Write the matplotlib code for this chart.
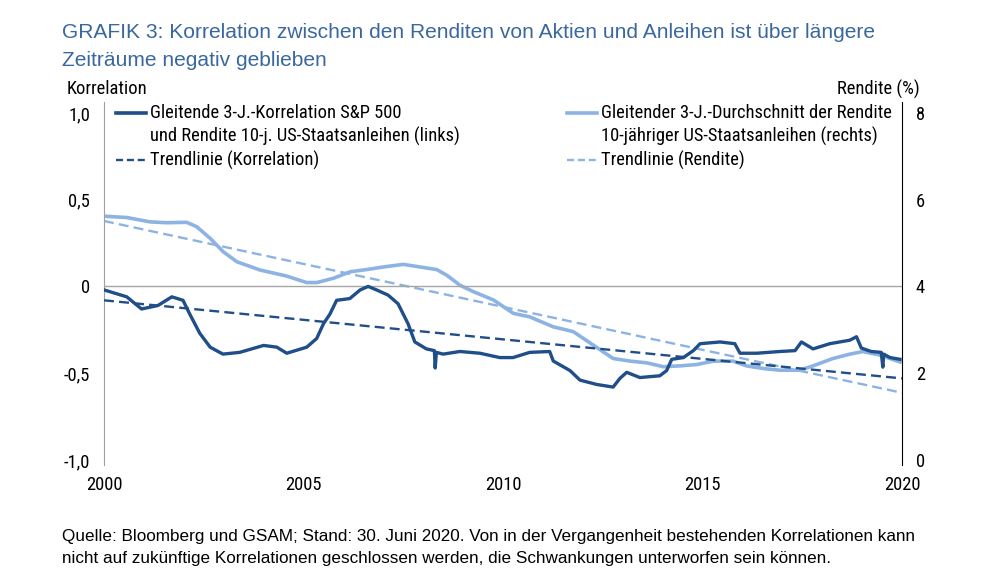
import matplotlib.pyplot as plt
import numpy as np

# condensed font for the axis texts, Arial-like for title/footnote
plt.rcParams['font.family'] = ['Roboto Condensed', 'DejaVu Sans']
SANS = ['Liberation Sans', 'DejaVu Sans']
FS = 13.3

DARK = '#1f4e89'
LIGHT = '#8db3e2'
TITLE_C = '#3a689e'

# rolling 3y correlation S&P 500 vs 10y yield (left axis)
corr_year = [2000.0, 2000.57, 2000.94, 2001.35, 2001.7, 2001.98, 2002.15, 2002.4, 2002.66,
             2002.98, 2003.4, 2004.0, 2004.33, 2004.58, 2005.08, 2005.33, 2005.5, 2005.66,
             2005.83, 2006.16, 2006.42, 2006.62, 2006.83, 2007.12, 2007.37, 2007.62, 2007.79,
             2008.08, 2008.28, 2008.3, 2008.33, 2008.5, 2008.92, 2009.42, 2009.92, 2010.25,
             2010.67, 2011.17, 2011.26, 2011.68, 2011.93, 2012.35, 2012.76, 2012.93, 2013.1,
             2013.43, 2013.93, 2014.1, 2014.23, 2014.52, 2014.77, 2014.94, 2015.44, 2015.81,
             2015.94, 2016.36, 2016.94, 2017.32, 2017.48, 2017.77, 2018.19, 2018.69, 2018.86,
             2018.98, 2019.23, 2019.48, 2019.52, 2019.54, 2019.7, 2019.95]
corr_val = [-0.02, -0.06, -0.13, -0.11, -0.06, -0.08, -0.16, -0.27, -0.35,
            -0.39, -0.38, -0.34, -0.35, -0.385, -0.35, -0.30, -0.215, -0.16,
            -0.08, -0.07, -0.02, 0.0, -0.02, -0.05, -0.10, -0.215, -0.32,
            -0.36, -0.37, -0.47, -0.38, -0.39, -0.375, -0.385, -0.41, -0.41,
            -0.38, -0.375, -0.43, -0.485, -0.54, -0.565, -0.58, -0.53, -0.495,
            -0.525, -0.515, -0.485, -0.42, -0.41, -0.37, -0.33, -0.32, -0.33,
            -0.385, -0.385, -0.375, -0.37, -0.32, -0.36, -0.33, -0.31, -0.29,
            -0.355, -0.375, -0.38, -0.465, -0.39, -0.41, -0.42]

# rolling 3y average 10y yield (right axis, %)
yld_year = [2000.0, 2000.57, 2001.15, 2001.57, 2002.07, 2002.32, 2002.66, 2002.99, 2003.33,
            2003.91, 2004.58, 2005.08, 2005.33, 2005.75, 2006.17, 2006.58, 2007.0, 2007.5,
            2007.92, 2008.34, 2008.59, 2008.92, 2009.26, 2009.76, 2010.26, 2010.67, 2011.26,
            2011.76, 2012.26, 2012.76, 2013.18, 2013.6, 2014.02, 2014.43, 2014.85, 2015.27,
            2015.77, 2016.1, 2016.52, 2016.94, 2017.44, 2017.77, 2018.27, 2018.69, 2019.02,
            2019.44, 2019.95]
yld_val = [5.62, 5.59, 5.49, 5.47, 5.48, 5.38, 5.11, 4.80, 4.57,
           4.38, 4.24, 4.09, 4.09, 4.19, 4.34, 4.39, 4.45, 4.51,
           4.45, 4.39, 4.26, 4.03, 3.88, 3.69, 3.38, 3.30, 3.07,
           2.96, 2.65, 2.34, 2.28, 2.24, 2.15, 2.17, 2.20, 2.28,
           2.28, 2.17, 2.11, 2.07, 2.07, 2.17, 2.34, 2.44, 2.50,
           2.42, 2.26]

# trend lines (start / end)
trend_year = [2000.0, 2020.0]
trend_corr = [-0.08, -0.53]
trend_yld = [5.51, 1.55]

left_ticks = [-1.0, -0.5, 0.0, 0.5, 1.0]
left_labels = ['-1,0', '-0,5', '0', '0,5', '1,0']
right_ticks = [0, 2, 4, 6, 8]
x_ticks = [2000, 2005, 2010, 2015, 2020]

fig = plt.figure(figsize=(9.86, 5.86), dpi=100)
ax = fig.add_axes([0.1055, 0.2065, 0.8093, 0.6195])
ax2 = ax.twinx()

ax.set_xlim(2000, 2020)
ax.set_ylim(-1.029, 1.063)
ax2.set_ylim(-0.115, 8.254)

ax.axhline(0, color='#a6a6a6', lw=1.0, zorder=1)

ax2.plot(yld_year, yld_val, color=LIGHT, lw=2.6, zorder=2)
ax2.plot(trend_year, trend_yld, color=LIGHT, lw=1.7, dashes=(4.2, 2.2), zorder=2)
ax.set_zorder(ax2.get_zorder() + 1)
ax.patch.set_visible(False)
ax.plot(corr_year, corr_val, color=DARK, lw=2.4, zorder=3)
ax.plot(trend_year, trend_corr, color=DARK, lw=1.7, dashes=(4.2, 2.2), zorder=3)

for a in (ax, ax2):
    a.spines['top'].set_visible(False)
    a.spines['bottom'].set_visible(False)
    a.tick_params(length=0, labelsize=FS, colors='black')
ax.spines['left'].set_color('#a0a0a0')
ax.spines['right'].set_visible(False)
ax2.spines['left'].set_visible(False)
ax2.spines['right'].set_color('black')

ax.set_yticks(left_ticks)
ax.set_yticklabels(left_labels)
ax.tick_params(axis='y', pad=10)
ax2.set_yticks(right_ticks)
ax2.tick_params(axis='y', pad=10)
ax.set_xticks(x_ticks)
ax.tick_params(axis='x', pad=8)

fig.text(67 / 986, 1 - 89 / 586, 'Korrelation', fontsize=FS, ha='left', va='center')
fig.text(920 / 986, 1 - 89 / 586, 'Rendite (%)', fontsize=FS, ha='right', va='center')

# legend, drawn by hand
def leg_item(x0, y, ls, color, lines):
    kw = dict(color=color, lw=2.6)
    if ls != '-':
        kw = dict(color=color, lw=1.7, dashes=(3, 1.6))
    fig.add_artist(plt.Line2D([x0 / 986, (x0 + 30) / 986], [1 - y / 586] * 2, **kw))
    for i, t in enumerate(lines):
        fig.text((x0 + 34) / 986, 1 - (y + i * 23) / 586, t, fontsize=FS, ha='left', va='center')

leg_item(116, 113, '-', DARK, ['Gleitende 3-J.-Korrelation S&P 500',
                               'und Rendite 10-j. US-Staatsanleihen (links)'])
leg_item(116, 160, '--', DARK, ['Trendlinie (Korrelation)'])
leg_item(567, 113, '-', LIGHT, ['Gleitender 3-J.-Durchschnitt der Rendite',
                                '10-jähriger US-Staatsanleihen (rechts)'])
leg_item(567, 160, '--', LIGHT, ['Trendlinie (Rendite)'])

fig.text(62 / 986, 1 - 32 / 586, 'GRAFIK 3: Korrelation zwischen den Renditen von Aktien und Anleihen ist über längere',
         fontsize=15.1, color=TITLE_C, family=SANS, ha='left', va='center')
fig.text(62 / 986, 1 - 60 / 586, 'Zeiträume negativ geblieben',
         fontsize=15.1, color=TITLE_C, family=SANS, ha='left', va='center')

fig.text(62 / 986, 1 - 537 / 586, 'Quelle: Bloomberg und GSAM; Stand: 30. Juni 2020. Von in der Vergangenheit bestehenden Korrelationen kann',
         fontsize=12.3, family=SANS, ha='left', va='center')
fig.text(62 / 986, 1 - 559 / 586, 'nicht auf zukünftige Korrelationen geschlossen werden, die Schwankungen unterworfen sein können.',
         fontsize=12.3, family=SANS, ha='left', va='center')

fig.savefig('out.png', dpi=100, facecolor='white')
